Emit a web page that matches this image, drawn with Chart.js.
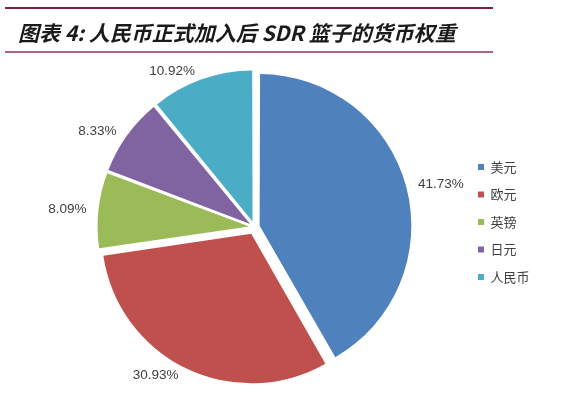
<!DOCTYPE html>
<html><head><meta charset="utf-8">
<script src="https://cdn.jsdelivr.net/npm/chart.js@4"></script>
<style>
html,body{margin:0;padding:0;background:#fff;}
#wrap{position:relative;width:569px;height:401px;overflow:hidden;background:#fff;}
#c{position:absolute;left:0;top:0;}
.rule{position:absolute;left:5px;width:488px;height:2px;}
#t{position:absolute;left:18px;top:18px;font:italic bold 21px "Noto Sans CJK SC";color:#1a1a1a;white-space:nowrap;line-height:28px;}
</style></head><body>
<div id="wrap">
<canvas id="c" width="569" height="401"></canvas>
<div class="rule" style="top:7px;background:#7e1f47"></div>
<div id="t">图表 4: 人民币正式加入后 SDR 篮子的货币权重</div>
<div class="rule" style="top:51px;background:#ad6386"></div>
</div>
<script>
const categories = ['美元', '欧元', '英镑', '日元', '人民币'];
const weights = [41.73, 30.93, 8.09, 8.33, 10.92];
const colors = ['#4F81BD', '#C0504D', '#9BBB59', '#8064A2', '#4BACC6'];

const EXPLODE = 8;     // visual gap each slice is pulled out, px
const LABEL_GAP = 8;   // distance from exploded slice edge to label anchor
const LABEL_PAD = 4;   // horizontal padding between anchor and text
const total = weights.reduce((a, b) => a + b, 0);

const pctLabels = {
  id: 'pctLabels',
  afterDatasetsDraw(chart) {
    const meta = chart.getDatasetMeta(0);
    const ctx = chart.ctx;
    ctx.save();
    ctx.font = '13.5px "Liberation Sans", Arial, sans-serif';
    ctx.fillStyle = '#404040';
    ctx.textBaseline = 'middle';
    meta.data.forEach((arc, i) => {
      const p = arc.getProps(['x', 'y', 'startAngle', 'endAngle', 'outerRadius'], true);
      const mid = (p.startAngle + p.endAngle) / 2;
      const dx = Math.cos(mid), dy = Math.sin(mid);
      const r = p.outerRadius + EXPLODE + LABEL_GAP;
      const text = weights[i].toFixed(2) + '%';
      const ax = p.x + dx * r, ay = p.y + dy * r;
      if (dx >= 0) {
        ctx.textAlign = 'left';
        ctx.fillText(text, ax + LABEL_PAD, ay);
      } else {
        ctx.textAlign = 'right';
        ctx.fillText(text, ax - LABEL_PAD, ay);
      }
    });
    ctx.restore();
  }
};

new Chart(document.getElementById('c'), {
  type: 'pie',
  data: {
    labels: categories,
    datasets: [{
      data: weights,
      backgroundColor: colors,
      borderWidth: 0,
      hoverOffset: 0,
      offset: (c) => {
        const circ = 2 * Math.PI * c.parsed / total;
        const fix = 1 - Math.sin(Math.min(Math.PI, circ));
        return 4 * EXPLODE / (1 + fix);
      }
    }]
  },
  options: {
    responsive: false,
    animation: false,
    events: [],
    radius: 149,
    layout: { padding: { top: 43, bottom: 0, left: 45.5, right: 29.5 } },
    plugins: {
      title: { display: true, text: '', font: { size: 1 }, padding: { top: 9, bottom: 0 } },
      tooltip: { enabled: false },
      legend: {
        position: 'right',
        labels: {
          font: { size: 13, family: '"Noto Sans CJK SC", sans-serif' },
          color: '#404040',
          boxWidth: 6,
          boxHeight: 6,
          padding: 14.5
        }
      }
    }
  },
  plugins: [pctLabels]
});
</script>
</body></html>
